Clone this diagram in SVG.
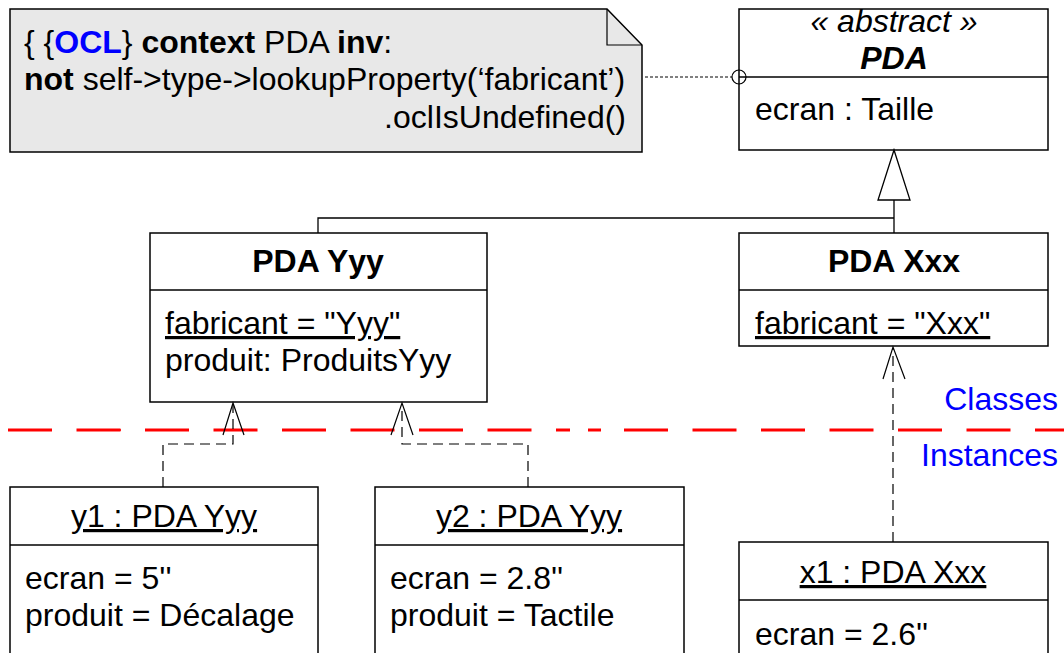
<svg xmlns="http://www.w3.org/2000/svg" width="1064" height="653" viewBox="0 0 1064 653">
<style>
text{font-family:"Liberation Sans",Arial,sans-serif;font-size:32px;fill:#000}
.b{font-weight:bold}
.i{font-style:italic}
.c{text-anchor:middle}
.r{text-anchor:end}
.u{text-decoration:underline}
.blue{fill:#0000ff}
.box{fill:#fff;stroke:#000;stroke-width:1.5}
.ln{fill:none;stroke:#000;stroke-width:1.3}
.dash{fill:none;stroke:#000;stroke-width:1.2;stroke-dasharray:10 6}
.head{fill:none;stroke:#000;stroke-width:1.2}
.red{stroke:#ff0000;stroke-width:3;fill:none}
</style>
<rect width="1064" height="653" fill="#fff"/>
<g id="note">
<path d="M10 9 H607 L642 45 V152 H10 Z" fill="#e8e8e8" stroke="#000" stroke-width="1.5"/>
<path d="M607 9 V45 H642" fill="none" stroke="#000" stroke-width="1.2"/>
<text x="24" y="53">{ {<tspan class="b blue">OCL</tspan>} <tspan class="b">context</tspan> PDA <tspan class="b">inv</tspan>:</text>
<text x="24" y="90"><tspan class="b">not</tspan> self-&gt;type-&gt;lookupProperty(‘fabricant’)</text>
<text x="626" y="128" class="r">.oclIsUndefined()</text>
</g>
<g id="PDA">
<rect x="739" y="9" width="309" height="141" class="box"/>
<line x1="739" y1="77" x2="1048" y2="77" class="ln"/>
<text x="894" y="32" class="c i">« abstract »</text>
<text x="894" y="69" class="c b i">PDA</text>
<text x="755" y="120">ecran : Taille</text>
</g>
<g id="PDAYyy">
<rect x="150" y="233" width="337" height="169" class="box"/>
<line x1="150" y1="290" x2="487" y2="290" class="ln"/>
<text x="318" y="272" class="c b">PDA Yyy</text>
<text x="165" y="334" class="u">fabricant = "Yyy"</text>
<text x="165" y="371">produit: ProduitsYyy</text>
</g>
<g id="PDAXxx">
<rect x="739" y="233" width="309" height="113" class="box"/>
<line x1="739" y1="290" x2="1048" y2="290" class="ln"/>
<text x="894" y="272" class="c b">PDA Xxx</text>
<text x="755" y="334" class="u">fabricant = "Xxx"</text>
</g>
<g id="y1">
<rect x="10" y="487" width="308" height="180" class="box"/>
<line x1="10" y1="545" x2="318" y2="545" class="ln"/>
<text x="164" y="527" class="c u">y1 : PDA Yyy</text>
<text x="25" y="589">ecran = 5''</text>
<text x="25" y="626">produit = Décalage</text>
</g>
<g id="y2">
<rect x="375" y="487" width="309" height="180" class="box"/>
<line x1="375" y1="545" x2="684" y2="545" class="ln"/>
<text x="529" y="527" class="c u">y2 : PDA Yyy</text>
<text x="390" y="589">ecran = 2.8''</text>
<text x="390" y="626">produit = Tactile</text>
</g>
<g id="x1">
<rect x="739" y="542" width="309" height="130" class="box"/>
<line x1="739" y1="600" x2="1048" y2="600" class="ln"/>
<text x="893" y="583" class="c u">x1 : PDA Xxx</text>
<text x="755" y="645">ecran = 2.6''</text>
</g>
<g id="separator">
<line x1="8" y1="430" x2="533" y2="430" class="red" stroke-dasharray="44 24.5"/>
<line x1="105" y1="430" x2="121" y2="430" stroke="#ff0000" stroke-width="1.5"/>
<line x1="556" y1="430" x2="570" y2="430" class="red"/>
<line x1="588" y1="430" x2="601" y2="430" class="red"/>
<line x1="624" y1="430" x2="1064" y2="430" class="red" stroke-dasharray="44 24.5"/>
<text x="1058" y="410" class="r blue">Classes</text>
<text x="1058" y="466" class="r blue">Instances</text>
</g>
<g id="connectors">
<line x1="645" y1="77" x2="732" y2="77" stroke="#000" stroke-width="1" stroke-dasharray="3 2"/>
<circle cx="739" cy="77" r="7" fill="none" stroke="#000" stroke-width="1.2"/>
<path d="M894 150 L878 200 H910 Z" fill="#fff" stroke="#000" stroke-width="1.3"/>
<path d="M894 200 V233 M894 218 H318 V233" class="ln"/>
<path d="M163 487 V444 H233 V404" class="dash"/>
<path d="M223 435 L233 403 L244 435" class="head"/>
<path d="M528 487 V444 H402 V404" class="dash"/>
<path d="M391 435 L402 403 L413 435" class="head"/>
<path d="M893 542 V348" class="dash"/>
<path d="M883 379 L893 347 L905 379" class="head"/>
</g>
</svg>
